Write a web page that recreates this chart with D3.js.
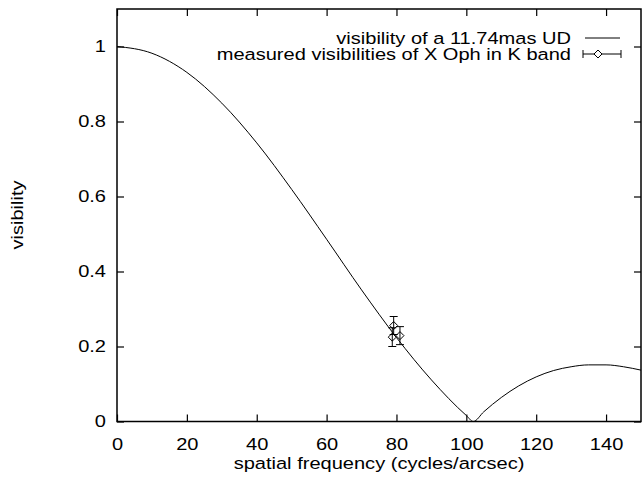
<!DOCTYPE html>
<html>
<head>
<meta charset="utf-8">
<script src="https://cdn.jsdelivr.net/npm/d3@7"></script>
<style>
  body { margin: 0; background: #fff; }
  text { font-family: "Liberation Sans", Arial, sans-serif; fill: #000; }
</style>
</head>
<body>
<div class="chart"></div>
<script>
// model curve (spatial frequency, visibility)
const curveFreq = [0, 10, 20, 30, 40, 50, 60, 70, 80, 90, 100, 102, 105, 110, 115, 120, 125, 130, 135, 140, 145, 150]
const curveVis  = [1, 0.982, 0.931, 0.849, 0.743, 0.619, 0.486, 0.351, 0.224, 0.111, 0.016, 0, 0.026, 0.064, 0.095, 0.119, 0.136, 0.146, 0.151, 0.151, 0.146, 0.137]

// measured points
const measFreq = [79.2, 78.8, 81.0]
const measVis  = [0.256, 0.225, 0.229]
const measErr  = [0.024, 0.025, 0.024]

const xTicks = [0, 20, 40, 60, 80, 100, 120, 140]
const yTicks = [0, 0.2, 0.4, 0.6, 0.8, 1]

const legendLabels = ["visibility of a 11.74mas UD", "measured visibilities of X Oph in K band"]

const width = 642, height = 483
const plot = { left: 117, right: 641, top: 9, bottom: 421.5 }

const svg = d3.select(".chart").append("svg")
  .attr("width", width)
  .attr("height", height)

const x = d3.scaleLinear().domain([0, 150]).range([plot.left, plot.right])
const y = d3.scaleLinear().domain([0, 1.1]).range([plot.bottom, plot.top])

// the reference lettering is a bit wide, so stretch it sideways
const fontSize = 17
const sx = 1.18

// axes with inward ticks
const fmt = d => d3.format("~g")(d)
svg.append("g")
  .attr("transform", `translate(0,${plot.bottom})`)
  .call(d3.axisBottom(x).tickValues(xTicks).tickFormat(fmt).tickSize(-7).tickPadding(16))
svg.append("g")
  .attr("transform", `translate(0,${plot.top})`)
  .call(d3.axisTop(x).tickValues(xTicks).tickFormat("").tickSize(-7))
const yAxis = svg.append("g")
  .attr("transform", `translate(${plot.left},0)`)
  .call(d3.axisLeft(y).tickValues(yTicks).tickFormat(fmt).tickSize(-7).tickPadding(11 / sx))
svg.append("g")
  .attr("transform", `translate(${plot.right},0)`)
  .call(d3.axisRight(y).tickValues(yTicks).tickFormat("").tickSize(-7))

svg.selectAll(".domain").remove()
svg.selectAll(".tick line").attr("stroke", "#000").attr("stroke-width", 1.2)
svg.selectAll(".tick text")
  .style("font-size", fontSize + "px")
  .attr("fill", "#000")
  .attr("transform", `scale(${sx},1)`)

// border
svg.append("rect")
  .attr("x", plot.left).attr("y", plot.top)
  .attr("width", plot.right - plot.left).attr("height", plot.bottom - plot.top)
  .attr("fill", "none").attr("stroke", "#000").attr("stroke-width", 1.5)

// curve
const line = d3.line().x(d => x(d[0])).y(d => y(d[1]))
svg.append("path")
  .datum(d3.zip(curveFreq, curveVis))
  .attr("d", line.curve(d3.curveMonotoneX))
  .attr("fill", "none").attr("stroke", "#000").attr("stroke-width", 1)

// measured points with error bars
const pts = d3.range(measFreq.length).map(i => ({ f: measFreq[i], v: measVis[i], e: measErr[i] }))
const cap = 4, r = 4
const diamond = (cx, cy) => `M${cx},${cy - r}L${cx + r},${cy}L${cx},${cy + r}L${cx - r},${cy}Z`

const g = svg.append("g").attr("stroke", "#000").attr("fill", "none").attr("stroke-width", 1)
pts.forEach(p => {
  const cx = x(p.f)
  g.append("line").attr("x1", cx).attr("x2", cx).attr("y1", y(p.v - p.e)).attr("y2", y(p.v + p.e))
  g.append("line").attr("x1", cx - cap).attr("x2", cx + cap).attr("y1", y(p.v - p.e)).attr("y2", y(p.v - p.e))
  g.append("line").attr("x1", cx - cap).attr("x2", cx + cap).attr("y1", y(p.v + p.e)).attr("y2", y(p.v + p.e))
  g.append("path").attr("d", diamond(cx, y(p.v)))
})

// plain text helper, stretched like the ticks
function label(tx, ty, txt, anchor, rot) {
  svg.append("text")
    .attr("transform", `translate(${tx},${ty}) rotate(${rot || 0}) scale(${sx},1)`)
    .attr("text-anchor", anchor)
    .style("font-size", fontSize + "px")
    .text(txt)
}

// legend
const legX = 571, legY = [44, 60]
legendLabels.forEach((t, i) => label(legX, legY[i], t, "end"))

const s1 = legY[0] - 6, s2 = legY[1] - 6
svg.append("line").attr("x1", 585).attr("x2", 620).attr("y1", s1).attr("y2", s1).attr("stroke", "#000")
const lg = svg.append("g").attr("stroke", "#000").attr("fill", "none")
lg.append("line").attr("x1", 583).attr("x2", 621).attr("y1", s2).attr("y2", s2)
lg.append("line").attr("x1", 583).attr("x2", 583).attr("y1", s2 - cap).attr("y2", s2 + cap)
lg.append("line").attr("x1", 621).attr("x2", 621).attr("y1", s2 - cap).attr("y2", s2 + cap)
lg.append("path").attr("d", diamond(598, s2)).attr("fill", "#fff")

// axis titles
label((plot.left + plot.right) / 2, 469, "spatial frequency (cycles/arcsec)", "middle")
label(23, 215, "visibility", "middle", -90)
</script>
</body>
</html>
